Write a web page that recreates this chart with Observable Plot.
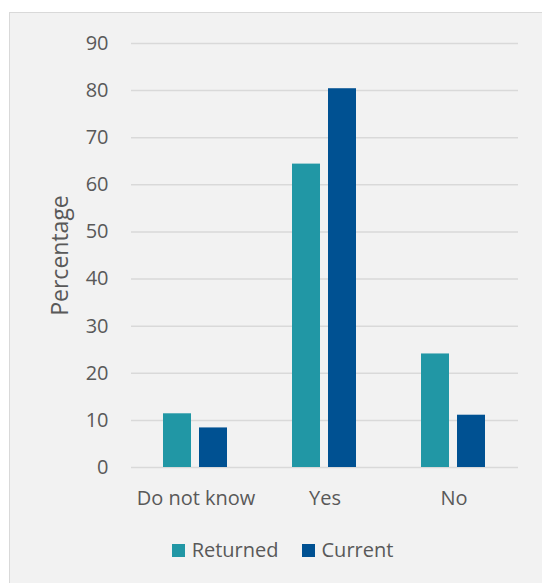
<!DOCTYPE html>
<html>
<head>
<meta charset="utf-8">
<script src="https://cdn.jsdelivr.net/npm/d3@7"></script>
<script src="https://cdn.jsdelivr.net/npm/@observablehq/plot@0.6"></script>
<style>
  html, body { margin: 0; padding: 0; background: #ffffff; overflow: hidden; width: 542px; height: 583px; }
  #box { position: absolute; left: 9px; top: 12px; width: 560px; height: 600px; border: 1px solid #d9d9d9; background: #f2f2f2; }
  #chart { position: absolute; left: 0; top: 0; }
  #legend { position: absolute; left: 10px; width: 545px; top: 540px; display: flex; justify-content: center; gap: 23px;
            font-family: "Open Sans", sans-serif; font-size: 20px; color: #595959; line-height: 20px; }
  .item { display: flex; align-items: center; gap: 7px; }
  .sw { width: 13px; height: 13px; display: inline-block; }
</style>
</head>
<body>
<div id="box"></div>
<div id="chart"></div>
<div id="legend"></div>
<script>
const categories = ["Do not know", "Yes", "No"];
const series = ["Returned", "Current"];
const returned = [11.4, 64.4, 24.1];
const current = [8.4, 80.4, 11.1];
const yTicks = [0, 10, 20, 30, 40, 50, 60, 70, 80, 90];
const colors = ["#2197a5", "#005192"];
const yTitle = "Percentage";

const data = categories.flatMap((c, i) => [
  {category: c, series: series[0], value: returned[i]},
  {category: c, series: series[1], value: current[i]}
]);

const chart = Plot.plot({
  width: 542,
  height: 520,
  marginLeft: 130,
  marginRight: 24,
  marginTop: 43,
  marginBottom: 53,
  style: {background: "transparent", fontFamily: "'Open Sans', sans-serif", fontSize: "20px", color: "#595959", overflow: "visible"},
  fx: {domain: categories, padding: 0},
  x: {domain: series, paddingInner: 0.21, paddingOuter: 0.866, axis: null},
  y: {domain: [0, 90]},
  color: {domain: series, range: colors},
  marks: [
    Plot.gridY(yTicks, {stroke: "#d9d9d9", strokeOpacity: 1, strokeWidth: 1.5}),
    Plot.axisY(yTicks, {tickSize: 0, tickPadding: 23, label: yTitle, labelAnchor: "center", labelArrow: "none", labelOffset: 80, fontSize: 20}),
    Plot.axisFx({anchor: "bottom", tickSize: 0, tickPadding: 23, label: null, fontSize: 20}),
    Plot.barY(data, {fx: "category", x: "series", y: "value", fill: "series"})
  ]
});
d3.select(chart).selectAll("text")
  .filter(function () { return this.textContent === yTitle; })
  .style("font-size", "23px").attr("font-size", 23);
document.getElementById("chart").appendChild(chart);

const legend = document.getElementById("legend");
series.forEach((s, i) => {
  const item = document.createElement("div");
  item.className = "item";
  const sw = document.createElement("span");
  sw.className = "sw";
  sw.style.background = colors[i];
  const t = document.createElement("span");
  t.textContent = s;
  item.appendChild(sw);
  item.appendChild(t);
  legend.appendChild(item);
});
</script>
</body>
</html>
